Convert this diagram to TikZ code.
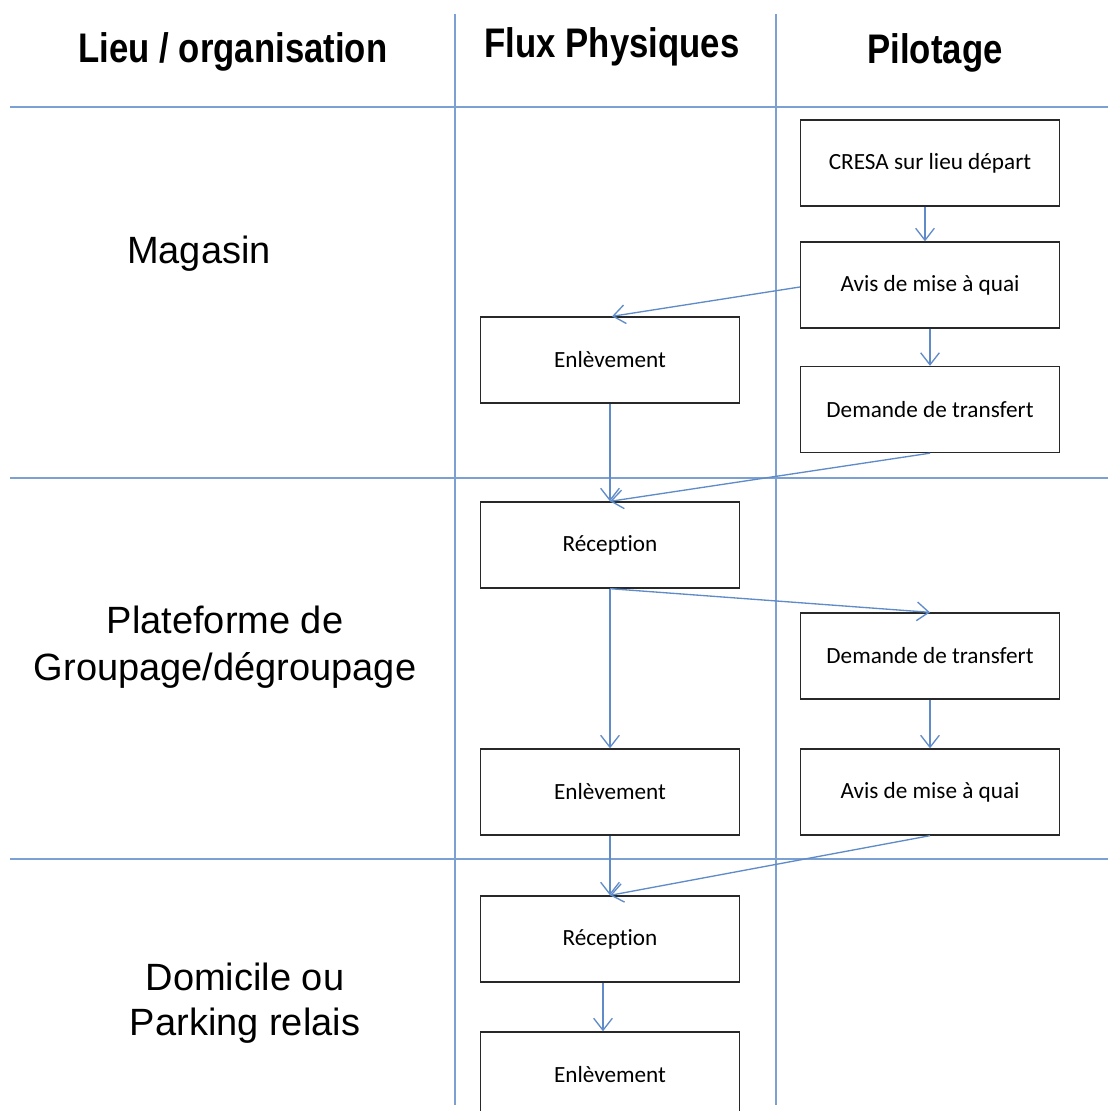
\documentclass[tikz,border=0pt]{standalone}
\usepackage{fontspec}
\setmainfont{Carlito}[Ligatures=NoCommon]
\newfontfamily\arialf{Liberation Sans}
\usetikzlibrary{arrows.meta}
\definecolor{divblue}{RGB}{125,160,210}
\definecolor{arrblue}{RGB}{95,140,200}
\definecolor{boxgray}{RGB}{40,40,40}
\begin{document}
\begin{tikzpicture}[x=0.75pt,y=-0.75pt,
  box/.style={draw=boxgray,line width=1pt,fill=white,minimum width=194.25pt,minimum height=64.5pt,inner sep=0pt,font=\fontsize{17.4}{20}\selectfont},
  divider/.style={draw=divblue,line width=1.1pt},
  flow/.style={draw=arrblue,line width=1pt,-{Straight Barb[length=9pt,width=14pt,line width=1pt]}},
  hdr/.style={anchor=base,font=\arialf\bfseries\fontsize{31}{36}\selectfont},
  lbl/.style={anchor=base,font=\arialf\fontsize{28.5}{34}\selectfont}]
\useasboundingbox (0,0) rectangle (1109,1111);
\clip (0,0) rectangle (1109,1111);
% dividers
\draw[divider] (10,107) -- (1108,107);
\draw[divider] (10,478) -- (1108,478);
\draw[divider] (10,859) -- (1108,859);
\draw[divider] (455,14) -- (455,1105);
\draw[divider] (776,14) -- (776,1105);
% headers
\node[hdr] (h1) at (233,62) {\scalebox{0.84}[1]{Lieu / organisation}};
\node[hdr] (h2) at (612,57) {\scalebox{0.84}[1]{Flux Physiques}};
\node[hdr] (h3) at (935,63) {\scalebox{0.84}[1]{Pilotage}};
% row labels
\node[lbl] (l1) at (199,263) {Magasin};
\node[lbl] (l2a) at (225,633) {Plateforme de};
\node[lbl] (l2b) at (225,680) {Groupage/dégroupage};
\node[lbl] (l3a) at (245,990) {Domicile ou};
\node[lbl] (l3b) at (245,1035) {Parking relais};
% boxes
\node[box] (cresa) at (930,163) {CRESA sur lieu départ};
\node[box] (avis1) at (930,285) {Avis de mise à quai};
\node[box] (dem1) at (930,409.5) {Demande de transfert};
\node[box] (enl1) at (610,360) {Enlèvement};
\node[box] (rec1) at (610,545) {Réception};
\node[box] (dem2) at (930,656) {Demande de transfert};
\node[box] (avis2) at (930,792) {Avis de mise à quai};
\node[box] (enl2) at (610,792) {Enlèvement};
\node[box] (rec2) at (610,939) {Réception};
\node[box] (enl3) at (610,1075) {Enlèvement};
% flows
\draw[flow] ([xshift=-3.75pt]cresa.south) -- ([xshift=-3.75pt]avis1.north);
\draw[flow] ([yshift=-1.5pt]avis1.west) -- ([xshift=1.5pt]enl1.north);
\draw[flow] (avis1.south) -- (dem1.north);
\draw[flow] (enl1.south) -- (rec1.north);
\draw[flow] (dem1.south) -- (rec1.north);
\draw[flow] (rec1.south) -- (dem2.north);
\draw[flow] (rec1.south) -- (enl2.north);
\draw[flow] (dem2.south) -- (avis2.north);
\draw[flow] (enl2.south) -- (rec2.north);
\draw[flow] (avis2.south) -- (rec2.north);
\draw[flow] ([xshift=-5.25pt]rec2.south) -- ([xshift=-5.25pt]enl3.north);
\end{tikzpicture}
\end{document}
